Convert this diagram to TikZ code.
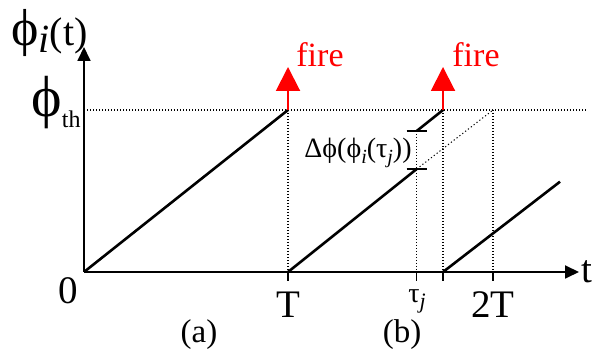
\documentclass[tikz,border=0pt]{standalone}
\usepackage{fontspec}
\setmainfont{Liberation Serif}
\usetikzlibrary{arrows.meta, positioning}
\definecolor{cfire}{HTML}{FF0000}
\tikzset{
  every picture/.style={x=0.5pt, y=-0.5pt},
  axis/.style={line width=0.9pt, -{Triangle[length=7pt, width=6.5pt]}},
  ramp/.style={line width=1.3pt},
  guide/.style={line width=0.6pt, dash pattern=on 0.6pt off 0.9pt},
  extend/.style={line width=0.5pt, dash pattern=on 0.6pt off 1.2pt},
  tick/.style={line width=0.6pt},
  firearrow/.style={cfire, line width=1pt, -{Triangle[length=12pt, width=12pt]}},
  firelabel/.style={text=cfire, font=\fontsize{17}{19}\selectfont, inner sep=0pt},
  biglabel/.style={font=\fontsize{19.5}{22}\selectfont, inner sep=0pt},
  smalllabel/.style={font=\fontsize{16.5}{18}\selectfont, inner sep=0pt},
}

\begin{document}
\begin{tikzpicture}
  \useasboundingbox (0,0) rectangle (592,356);
  % axes
  \coordinate (O) at (84,272);
  \coordinate (ytop) at (84,47);
  \coordinate (xend) at (579,272);
  \draw[axis] (O) -- (ytop);
  \draw[axis] (O) -- (xend);
  % threshold
  \coordinate (thl) at (84,110);
  \coordinate (thr) at (586,110);
  \draw[guide] (thl) -- (thr);
  % time marks on the axis and at threshold
  \coordinate (T) at (288,272);   \coordinate (Tup) at (288,110);
  \coordinate (tau) at (416.7,272); \coordinate (taulo) at (416.7,169); \coordinate (tauhi) at (416.7,131);
  \coordinate (F) at (443,272);   \coordinate (Fup) at (443,110);
  \coordinate (TT) at (493,272);  \coordinate (TTup) at (493,110);
  \coordinate (rend) at (560,181.7);
  % ramps
  \draw[ramp] (O) -- (Tup);
  \draw[ramp] (T) -- (taulo);
  \draw[ramp] (tauhi) -- (Fup);
  \draw[ramp] (F) -- (rend);
  % unperturbed continuation and drop lines
  \draw[extend] (taulo) -- (TTup);
  \draw[guide] (Tup) -- (T);
  \draw[guide] (tauhi) -- (tau);
  \draw[guide] (Fup) -- (F);
  \draw[guide] (TTup) -- (TT);
  % ticks
  \foreach \p in {T, tau, F, TT}
    \draw[tick] (\p) -- ++(0,9);
  % jump brackets
  \draw[tick] ([xshift=-5pt]tauhi) -- ([xshift=5pt]tauhi);
  \draw[tick] ([xshift=-5pt]taulo) -- ([xshift=5pt]taulo);
  % firing events
  \coordinate (fire1) at (288,67);
  \coordinate (fire2) at (443,67);
  \draw[firearrow] (Tup) -- (fire1);
  \draw[firearrow] (Fup) -- (fire2);
  \node[firelabel, anchor=base west] (lfire1) at (296,67) {fire};
  \node[firelabel, anchor=base west] (lfire2) at (452,67) {fire};
  % labels
  \node[biglabel, anchor=base west] (lphi) at (11,46) {{\fontsize{26}{28}\selectfont ϕ}\raisebox{-3.5pt}{\fontsize{20}{22}\selectfont\textit{i}}{\fontsize{20}{22}\selectfont(t)}};
  \node[biglabel, anchor=base west] (lth) at (31,117) {{\fontsize{29}{31}\selectfont ϕ}\raisebox{-5.5pt}{\fontsize{12}{14}\selectfont th}};
  \node[biglabel, anchor=base] (lzero) at (68,304) {0};
  \node[biglabel, anchor=base] (lT) at (288,318) {T};
  \node[biglabel, anchor=base] (lTT) at (493,318) {2T};
  \node[font=\fontsize{14}{16}\selectfont, inner sep=0pt, anchor=base west] (ltau) at (408,302.7) {τ\raisebox{-3pt}{\fontsize{11}{13}\selectfont\textit{j}}};
  \node[biglabel, anchor=base west] (lt) at (581,283) {t};
  \node[font=\fontsize{14}{16}\selectfont, inner sep=0pt, anchor=base east] (ldelta) at (412,158) {Δϕ(ϕ\raisebox{-3pt}{\fontsize{10}{12}\selectfont\textit{i}}(τ\raisebox{-3pt}{\fontsize{10}{12}\selectfont\textit{j}}))};
  \node[smalllabel, anchor=base] (la) at (199,343) {(a)};
  \node[smalllabel, anchor=base] (lb) at (402,343) {(b)};
\end{tikzpicture}
\end{document}
